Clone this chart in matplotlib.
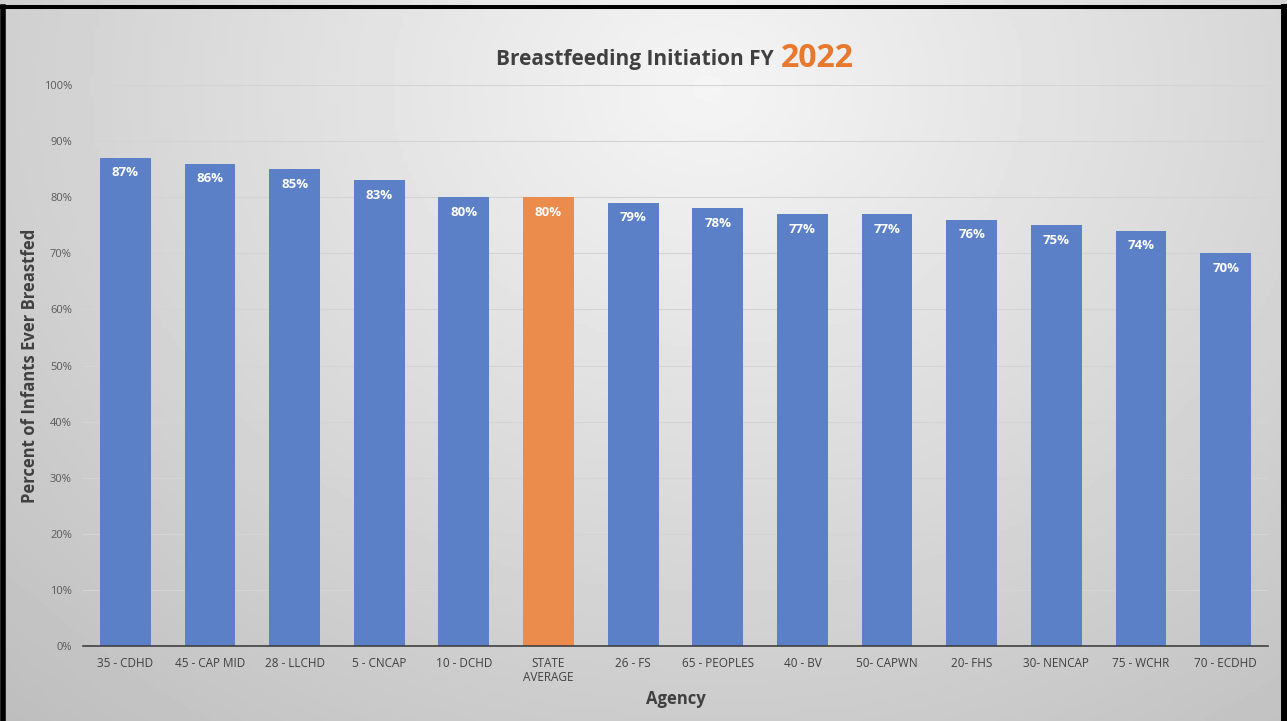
import numpy as np
import matplotlib.pyplot as plt
from matplotlib.lines import Line2D

plt.rcParams['font.family'] = ['Open Sans', 'DejaVu Sans']

# Data
agencies = ['35 - CDHD', '45 - CAP MID', '28 - LLCHD', '5 - CNCAP', '10 - DCHD',
            'STATE\nAVERAGE', '26 - FS', '65 - PEOPLES', '40 - BV', '50- CAPWN',
            '20- FHS', '30- NENCAP', '75 - WCHR', '70 - ECDHD']
rates = [0.87, 0.86, 0.85, 0.83, 0.80, 0.80, 0.79, 0.78, 0.77, 0.77, 0.76, 0.75, 0.74, 0.70]
yticks = np.arange(0, 1.01, 0.1)

blue = '#5B80C7'
orange = '#EC8C4C'
colors = [orange if a.startswith('STATE') else blue for a in agencies]

fig = plt.figure(figsize=(12.87, 7.21), dpi=100)

# radial grey background
bg = fig.add_axes([0, 0, 1, 1], zorder=-10)
gx, gy = np.meshgrid(np.linspace(0, 1, 300), np.linspace(0, 1, 200))
r = np.sqrt(((gx - 0.55) / 0.75) ** 2 + ((gy - 0.12) / 1.1) ** 2)
shade = 0.96 - 0.2 * np.clip(r, 0, 1.1)
bg.imshow(shade, cmap='gray', vmin=0, vmax=1, aspect='auto', extent=[0, 1, 1, 0])
bg.set_xlim(0, 1)
bg.set_ylim(1, 0)
bg.axis('off')

ax = fig.add_axes([0.0645, 0.104, 0.9207, 0.778])
ax.set_facecolor('none')
x = np.arange(len(agencies))
bars = ax.bar(x, rates, width=0.6, color=colors, zorder=3)

for xi, v in zip(x, rates):
    ax.text(xi, v - 0.015, f'{v*100:.0f}%', ha='center', va='top', color='white',
            fontsize=9.5, fontweight='bold', zorder=4)

ax.set_xlim(-0.5, len(agencies) - 0.5)
ax.set_ylim(0, 1)
ax.set_yticks(yticks)
ax.set_yticklabels([f'{t*100:.0f}%' for t in yticks], fontsize=8, color='#595959')
ax.set_xticks(x)
ax.set_xticklabels(agencies, fontsize=8.5, color='#404040', linespacing=1.1)
ax.tick_params(length=0, pad=8)
ax.grid(axis='y', color='#d4d4d4', linewidth=0.8, zorder=0)
for s in ['top', 'right', 'left']:
    ax.spines[s].set_visible(False)
ax.spines['bottom'].set_color('#404040')
ax.spines['bottom'].set_linewidth(1.2)
ax.spines['bottom'].set_zorder(5)

ax.set_ylabel('Percent of Infants Ever Breastfed', fontsize=12, fontweight='bold',
              color='#404040', labelpad=0)
ax.yaxis.set_label_coords(-0.037, 0.5)
ax.set_xlabel('Agency', fontsize=12, fontweight='bold', color='#404040', labelpad=4)

# title in two colours
fig.text(0.605, 0.917, 'Breastfeeding Initiation FY ', ha='right', va='center',
         fontsize=15, fontweight='bold', color='#404040')
fig.text(0.607, 0.919, '2022', ha='left', va='center',
         fontsize=23, fontweight='bold', color='#E8782E')

# black frame (top, left, right)
fig.add_artist(Line2D([0, 1], [0.9903, 0.9903], color='black', linewidth=2.9, transform=fig.transFigure))
fig.add_artist(Line2D([0.002, 0.002], [0, 0.99], color='black', linewidth=4, transform=fig.transFigure))
fig.add_artist(Line2D([0.9975, 0.9975], [0, 0.99], color='black', linewidth=5, transform=fig.transFigure))

fig.savefig('out.png', dpi=100)
